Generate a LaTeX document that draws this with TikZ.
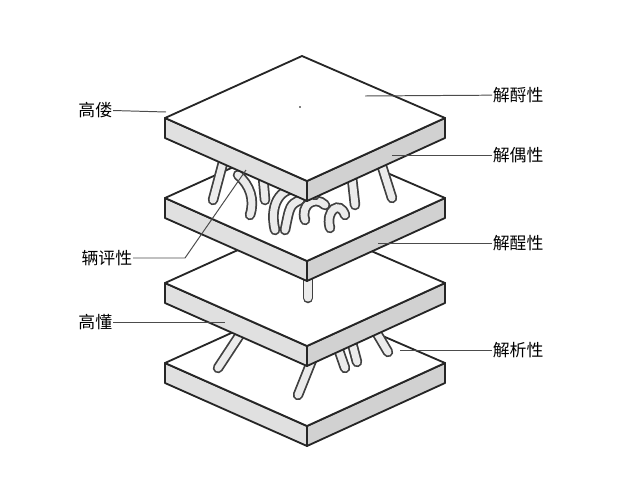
\documentclass[tikz,border=0pt]{standalone}
\usepackage{fontspec}
\newfontfamily\cjk{Noto Sans CJK SC}
\usepackage{tikz}

\tikzset{
	face/.style={draw=black!85,line width=2.6pt,fill=white,line join=round},
	side/.style={draw=black!85,line width=2.6pt,fill=black!12,line join=round},
	leg/.style={line width=15pt,line cap=round,draw=black!75},
	legin/.style={line width=10pt,line cap=round,draw=black!8},
	lead/.style={draw=black!70,line width=1.4pt},
	lbl/.style={font=\cjk\fontsize{24}{24}\selectfont,inner sep=1pt}
}
\newcommand{\slab}[2]{%
	\begin{scope}[yshift=#1*-0.5mm]
		\draw[side] (165,#2+0)--(307,#2+63)--(307,#2+83)--(165,#2+20)--cycle;
		\draw[side,fill=black!18] (307,#2+63)--(445,#2+0)--(445,#2+20)--(307,#2+83)--cycle;
		\draw[face] (165,#2+0)--(302,#2-62)--(445,#2+0)--(307,#2+63)--cycle;
	\end{scope}}
\newcommand{\post}[1]{\draw[leg] #1; \draw[legin] #1;}

\begin{document}
\begin{tikzpicture}[x=0.5mm,y=-0.5mm]
	\useasboundingbox (0,0) rectangle (640,480);
	% bottom up
	\slab{0}{363}
	\post{(218,368)--(243,330)}
	\post{(298,395)--(318,345)}
	\post{(345,368)--(337,345)}
	\post{(357,362)--(352,343)}
	\post{(388,352)--(375,330)}
	\slab{0}{283}
	\post{(308,298)--(308,262)}
	\slab{0}{198}
	% twisted legs
	\post{(213,200)--(225,155)}
	\post{(238,175) .. controls (250,185) and (255,200) .. (250,215)}
	\post{(275,230) .. controls (268,200) and (285,185) .. (300,190)}
	\post{(285,230) .. controls (290,205) .. (300,200)}
	\post{(305,220) .. controls (300,205) and (315,195) .. (325,205)}
	\post{(330,228) .. controls (325,210) and (340,200) .. (345,215)}
	\post{(315,195) .. controls (320,180) .. (330,170)}
	\post{(355,205)--(350,160)}
	\post{(392,198)--(380,160)}
	\post{(265,200)--(262,165)}
	\slab{0}{118}
	\fill (300,107) circle (0.8);
	% labels
	\node[lbl,anchor=east] (lt) at (113,110) {高偻};
	\node[lbl,anchor=east] (lm) at (133,258) {辆评性};
	\node[lbl,anchor=east] (lb) at (113,322) {高懂};
	\node[lbl,anchor=west] (r1) at (492,95) {解酹性};
	\node[lbl,anchor=west] (r2) at (492,155) {解偶性};
	\node[lbl,anchor=west] (r3) at (492,243) {解酲性};
	\node[lbl,anchor=west] (r4) at (492,350) {解析性};
	\coordinate (plt) at (166,112);
	\coordinate (plm) at (185,258);
	\coordinate (plm2) at (246,170);
	\coordinate (plb) at (225,322);
	\coordinate (pr1) at (365,96);
	\coordinate (pr2) at (392,155);
	\coordinate (pr3) at (378,243);
	\coordinate (pr4) at (400,350);
	\draw[lead] (lt) -- (plt);
	\draw[lead] (lm) -- (plm) -- (plm2);
	\draw[lead] (lb) -- (plb);
	\draw[lead] (r1) -- (pr1);
	\draw[lead] (r2) -- (pr2);
	\draw[lead] (r3) -- (pr3);
	\draw[lead] (r4) -- (pr4);
\end{tikzpicture}
\end{document}
